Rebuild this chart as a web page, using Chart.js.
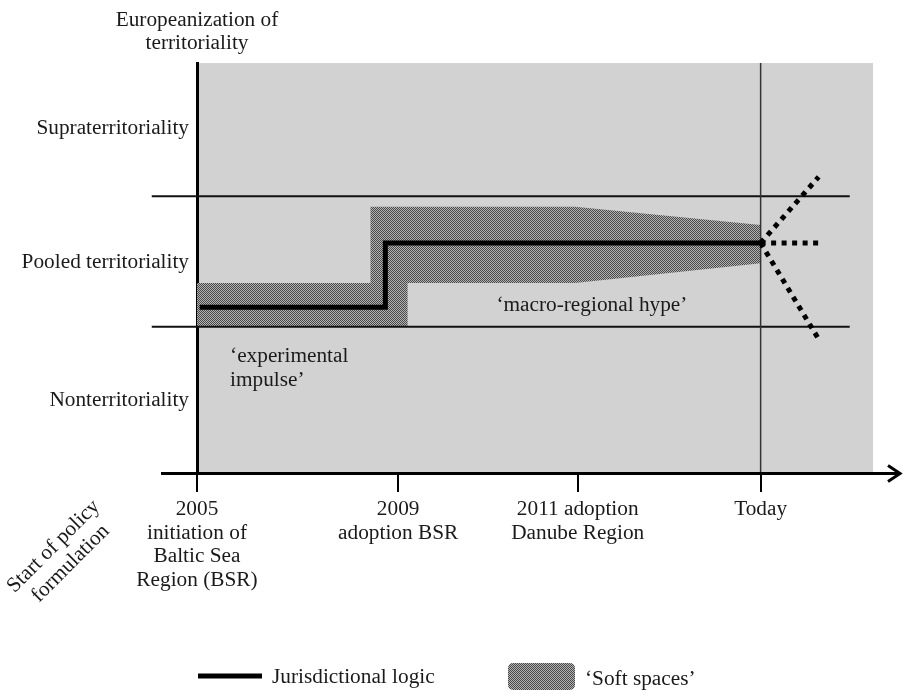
<!DOCTYPE html>
<html>
<head>
<meta charset="utf-8">
<script src="https://cdn.jsdelivr.net/npm/chart.js@4.4.1/dist/chart.umd.min.js"></script>
<style>
  body { margin: 0; background: #fff; }
  canvas { display: block; }
</style>
</head>
<body>
<canvas id="myChart" width="905" height="695"></canvas>
<script>
// timeline positions (0 = 2005 ... 100 = right end of frame), levels 0..100 bottom to top
const xTickPos = [0, 29.8, 56.4, 83.5];
const xTickLabels = [
    ['2005', 'initiation of', 'Baltic Sea', 'Region (BSR)'],
    ['2009', 'adoption BSR'],
    ['2011 adoption', 'Danube Region'],
    ['Today']
];
const levelPos = [84, 51.6, 17.8];
const levelNames = ['Supraterritoriality', 'Pooled territoriality', 'Nonterritoriality'];
const bandEdges = [35.8, 67.6];
const bandStart = -6.7;
const bandEnd = 96.7;

// 'soft spaces' outline: top edge left to right, then bottom edge back
const softX = [0, 25.7, 25.7, 56, 83.5, 83.5, 56, 31.2, 31.2, 0];
const softY = [46.5, 46.5, 65.0, 65.0, 60.6, 51.3, 46.5, 46.5, 35.8, 35.8];

// jurisdictional logic
const lineX = [0.4, 27.9, 27.9, 83.5];
const lineY = [40.6, 40.6, 56.2, 56.2];

// projections after today
const projEndX = [92.1, 92.3, 92.1];
const projEndY = [72.3, 56.2, 32.8];

const notes = [
    { x: 4.9, y: 28.5, lines: ['\u2018experimental', 'impulse\u2019'], align: 'left' },
    { x: 58.5, y: 41.1, lines: ['\u2018macro-regional hype\u2019'], align: 'center' }
];

const serif = "'Liberation Serif', 'Times New Roman', serif";
const fontSize = 21.3;
const ink = '#1a1a1a';

function makePattern() {
    const c = document.createElement('canvas');
    c.width = 2;
    c.height = 2;
    const g = c.getContext('2d');
    g.fillStyle = '#b4b4b4';
    g.fillRect(0, 0, 2, 2);
    g.fillStyle = '#484848';
    g.fillRect(0, 0, 1, 1);
    g.fillRect(1, 1, 1, 1);
    return g.createPattern(c, 'repeat');
}
const hatch = makePattern();

function pts(xs, ys) {
    return xs.map((x, i) => ({ x: x, y: ys[i] }));
}

let datasets = [];

datasets.push({
    label: 'Soft spaces',
    data: pts(softX, softY),
    fill: 'shape',
    backgroundColor: hatch,
    borderWidth: 0,
    pointRadius: 0,
    order: 10
});

bandEdges.forEach(function (b) {
    datasets.push({
        label: 'band',
        data: [{ x: bandStart, y: b }, { x: bandEnd, y: b }],
        borderColor: '#111',
        borderWidth: 2,
        pointRadius: 0,
        clip: false,
        order: 8
    });
});

datasets.push({
    label: 'today',
    data: [{ x: xTickPos[3], y: 0 }, { x: xTickPos[3], y: 100 }],
    borderColor: '#333',
    borderWidth: 1.5,
    pointRadius: 0,
    order: 7
});

datasets.push({
    label: 'Jurisdictional logic',
    data: pts(lineX, lineY),
    borderColor: '#000',
    borderWidth: 5,
    borderJoinStyle: 'miter',
    pointRadius: 0,
    order: 2
});

projEndX.forEach(function (ex, i) {
    datasets.push({
        label: 'projection',
        data: [{ x: lineX[3], y: lineY[3] }, { x: ex, y: projEndY[i] }],
        borderColor: '#000',
        borderWidth: 5,
        borderDash: [5, 5.5],
        borderCapStyle: 'butt',
        pointRadius: 0,
        clip: false,
        order: 1
    });
});

const decor = {
    id: 'decor',
    beforeDraw(chart) {
        const { ctx, chartArea: a } = chart;
        ctx.save();
        ctx.fillStyle = '#d2d2d2';
        ctx.fillRect(a.left, a.top, a.right - a.left + 1, a.bottom - a.top - 1);
        ctx.restore();
    },
    afterDraw(chart) {
        const { ctx, chartArea: a } = chart;
        const xs = chart.scales.x, ys = chart.scales.y;
        ctx.save();

        // x axis with arrow
        const ay = a.bottom - 0.5;
        ctx.strokeStyle = '#000';
        ctx.lineWidth = 3;
        ctx.beginPath();
        ctx.moveTo(a.left - 36, ay);
        ctx.lineTo(a.right + 28, ay);
        ctx.stroke();
        ctx.beginPath();
        ctx.moveTo(a.right + 16, ay - 8);
        ctx.lineTo(a.right + 28, ay);
        ctx.lineTo(a.right + 16, ay + 8);
        ctx.stroke();

        ctx.fillStyle = ink;
        ctx.font = fontSize + 'px ' + serif;
        ctx.textAlign = 'center';
        ctx.textBaseline = 'middle';

        // y axis title
        ctx.fillText('Europeanization of', a.left, 20);
        ctx.fillText('territoriality', a.left, 43);

        // x axis title, rotated
        ctx.save();
        ctx.translate(62, 555);
        ctx.rotate(-Math.PI / 4);
        ctx.fillText('Start of policy', 0, -12);
        ctx.fillText('formulation', 0, 12);
        ctx.restore();

        // annotations
        notes.forEach(function (n) {
            ctx.textAlign = n.align;
            n.lines.forEach(function (t, i) {
                ctx.fillText(t, xs.getPixelForValue(n.x), ys.getPixelForValue(n.y) + i * 24);
            });
        });

        // legend
        const ly = 676;
        ctx.strokeStyle = '#000';
        ctx.lineWidth = 5;
        ctx.beginPath();
        ctx.moveTo(198, ly);
        ctx.lineTo(262, ly);
        ctx.stroke();
        ctx.textAlign = 'left';
        ctx.fillText('Jurisdictional logic', 272, ly + 1);

        ctx.fillStyle = hatch;
        ctx.beginPath();
        ctx.roundRect(508, 663, 67, 27, 5);
        ctx.fill();
        ctx.fillStyle = ink;
        ctx.fillText('\u2018Soft spaces\u2019', 585, 679);

        ctx.restore();
    }
};

let config = {
    type: 'line',
    data: { datasets: datasets },
    options: {
        responsive: false,
        animation: false,
        layout: { padding: { top: 63, right: 33, left: 0, bottom: 0 } },
        plugins: {
            legend: { display: false },
            tooltip: { enabled: false },
            title: { display: false }
        },
        scales: {
            x: {
                type: 'linear',
                min: 0,
                max: 100,
                afterBuildTicks: function (s) {
                    s.ticks = xTickPos.map(v => ({ value: v }));
                },
                afterFit: function (s) { s.height = 221; },
                ticks: {
                    autoSkip: false,
                    maxRotation: 0,
                    padding: 6,
                    color: ink,
                    font: { family: serif, size: fontSize, lineHeight: 1.1 },
                    callback: function (v, i) { return xTickLabels[i]; }
                },
                grid: {
                    drawOnChartArea: false,
                    drawTicks: true,
                    tickLength: 18,
                    color: '#000',
                    lineWidth: 2
                },
                border: { display: false }
            },
            y: {
                type: 'linear',
                min: 0,
                max: 100,
                afterBuildTicks: function (s) {
                    s.ticks = levelPos.map(v => ({ value: v }));
                },
                afterFit: function (s) { s.width = 197; },
                ticks: {
                    padding: 8,
                    color: ink,
                    font: { family: serif, size: fontSize },
                    callback: function (v, i) { return levelNames[i]; }
                },
                grid: { display: false, drawTicks: false },
                border: { display: true, color: '#000', width: 3 }
            }
        }
    },
    plugins: [decor]
};

let myChart = new Chart(document.getElementById('myChart'), config);
</script>
</body>
</html>
